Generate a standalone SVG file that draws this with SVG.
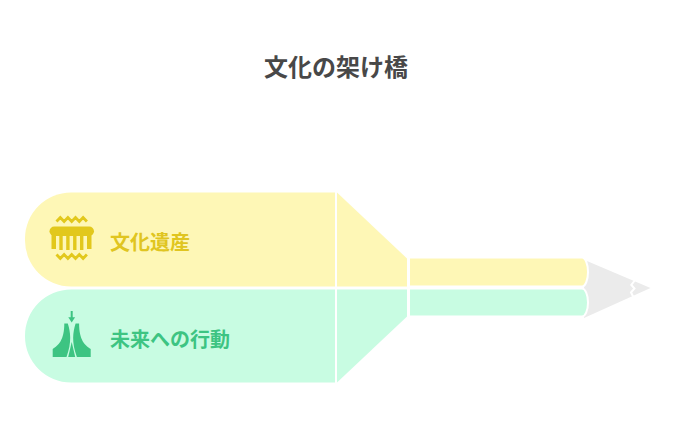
<svg xmlns="http://www.w3.org/2000/svg" width="678" height="432" viewBox="0 0 678 432">
<style>
.t{font-family:"Noto Sans CJK JP","Noto Sans",sans-serif;font-weight:700}
.title{font-size:24px;fill:#484848}
.lbl{font-size:20px}
.y{fill:#FEF7B6}
.g{fill:#C8FCE2}
.yi{fill:#E2C81C}
.gi{fill:#3DC482}
.bar{stroke:#fff;stroke-width:2}
</style>
<rect width="678" height="432" fill="#fff"/>
<text class="t title" x="336" y="76" text-anchor="middle">文化の架け橋</text>
<g id="tip">
<path d="M584,259.8 L650.5,288 L584,318 Z" fill="#EBEBEB"/>
<polyline points="635.5,279.5 631.3,285 634.5,288.5 631,292.3 633.8,298" fill="none" stroke="#fff" stroke-width="2"/>
</g>
<g id="heritage">
<path class="y" d="M335,192.5 H71 A46,46 0 0 0 25,238.5 V240.5 A46,46 0 0 0 71,286.5 H335 Z"/>
<path class="y" d="M337,192.5 L407,258.5 V286.5 H337 Z"/>
<path class="y bar" d="M409,257.5 H582 A6,14.5 0 0 1 582,286.5 H409 Z"/>
<g id="icon-heritage">
<polyline points="56.5,221.5 60.3,217.5 64.1,221.5 67.9,217.5 71.7,221.5 75.5,217.5 79.3,221.5 83.1,217.5 86.9,221.5" fill="none" stroke="#E2C81C" stroke-width="2.8"/>
<rect class="yi" x="49.5" y="226.5" width="44.5" height="9.5" rx="4.75"/>
<rect class="yi" x="51.5" y="234" width="4.5" height="15"/>
<rect class="yi" x="59.3" y="234" width="3.4" height="16"/>
<rect class="yi" x="66.2" y="234" width="3.4" height="16"/>
<rect class="yi" x="73.1" y="234" width="3.4" height="16"/>
<rect class="yi" x="80" y="234" width="3.4" height="16"/>
<rect class="yi" x="87" y="234" width="4.5" height="15"/>
<polyline points="56.5,254.5 60.3,258.5 64.1,254.5 67.9,258.5 71.7,254.5 75.5,258.5 79.3,254.5 83.1,258.5 86.9,254.5" fill="none" stroke="#E2C81C" stroke-width="2.8"/>
</g>
<text class="t lbl" x="110" y="249.5" fill="#E0C520">文化遺産</text>
</g>
<g id="action">
<path class="g" d="M335,289.5 H71 A46,46 0 0 0 25,335.5 V336.5 A46,46 0 0 0 71,382.5 H335 Z"/>
<path class="g" d="M337,289.5 H407 V316.5 L337,382.5 Z"/>
<path class="g bar" d="M409,288.5 H582 A6,14 0 0 1 582,316.5 H409 Z"/>
<g id="icon-action">
<rect class="gi" x="70.7" y="311" width="2" height="7"/>
<path class="gi" d="M68.3,317.3 H75.1 L71.7,322.5 Z"/>
<path id="leg" class="gi" d="M64.3,323.5 H67.8 C70.5,332 72,342 66.5,357 H52.7 V349 C58.5,345.5 64.3,340 64.3,323.5 Z"/>
<use href="#leg" transform="translate(143.4,0) scale(-1,1)"/>
<path class="gi" d="M71.7,342 L75.2,357 H68.2 Z"/>
</g>
<text class="t lbl" x="110" y="346.5" fill="#3DC482">未来への行動</text>
</g>
</svg>
